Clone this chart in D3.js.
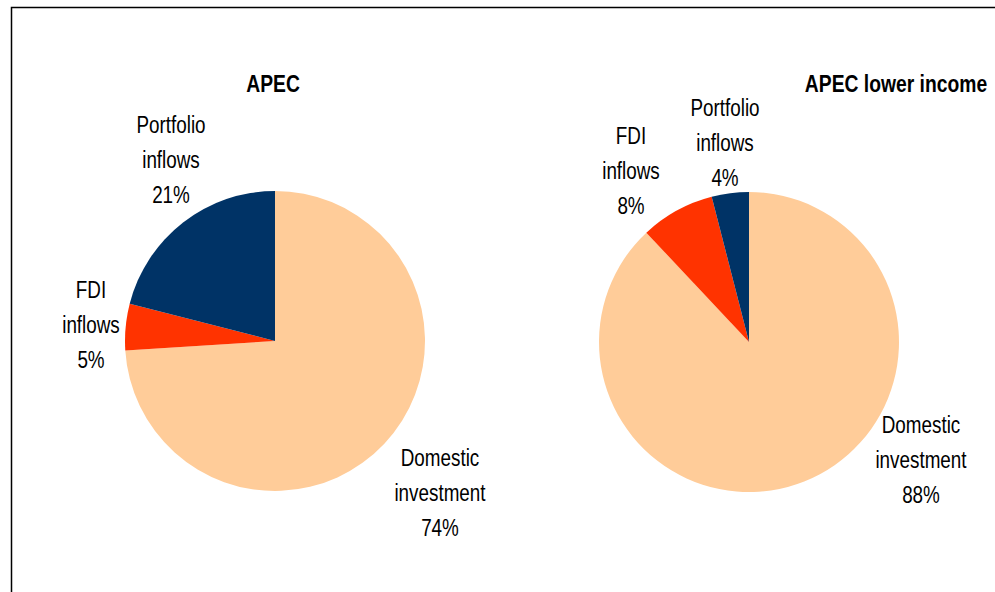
<!DOCTYPE html>
<html lang="en">
<head>
    <meta charset="UTF-8">
    <title>APEC investment sources</title>
    <style>
        body { margin: 0; background: #fff; }
        svg { display: block; }
        .lbl { font-family: "Liberation Sans Narrow", "Arial Narrow", "Liberation Sans", sans-serif; font-size: 23px; fill: #000; }
        .ttl { font-family: "Liberation Sans Narrow", "Arial Narrow", "Liberation Sans", sans-serif; font-size: 23px; font-weight: bold; fill: #000; }
    </style>
</head>
<body>
    <div id="chart"></div>
    <script src="https://cdn.jsdelivr.net/npm/d3@7"></script>
    <script>
        // data
        const categories = ["Domestic investment", "FDI inflows", "Portfolio inflows"];
        const titles = ["APEC", "APEC lower income"];
        const apecValues = [74, 5, 21];
        const lowerIncomeValues = [88, 8, 4];
        const labelLines = [["Domestic", "investment"], ["FDI", "inflows"], ["Portfolio", "inflows"]];

        const colors = ["#FFCC99", "#FF3300", "#003366"];
        const width = 995, height = 592;
        // no narrow font installed, so squeeze text horizontally
        const squeeze = 0.82;

        const svg = d3.select("#chart").append("svg")
            .attr("width", width)
            .attr("height", height);

        // frame
        svg.append("rect")
            .attr("x", 11.5).attr("y", 7.5)
            .attr("width", 1000).attr("height", 600)
            .attr("fill", "none")
            .attr("stroke", "#000")
            .attr("stroke-width", 1.5);

        const radius = 150;
        const pie = d3.pie().sort(null).value(d => d);
        const arc = d3.arc().innerRadius(0).outerRadius(radius);

        // label offsets from pie centre, per slice (domestic, fdi, portfolio)
        const pies = [
            { values: apecValues, title: titles[0], cx: 275, cy: 341, titleX: 273,
              labels: [[165, 152], [-184, -16], [-104, -181]] },
            { values: lowerIncomeValues, title: titles[1], cx: 749, cy: 342, titleX: 896,
              labels: [[172, 118], [-118, -171], [-24, -199]] }
        ];

        pies.forEach(function (p) {
            const g = svg.append("g")
                .attr("transform", "translate(" + p.cx + "," + p.cy + ")");

            g.selectAll("path")
                .data(pie(p.values))
                .enter()
                .append("path")
                .attr("d", arc)
                .attr("fill", (d, i) => colors[i]);

            svg.append("text")
                .attr("class", "ttl")
                .attr("transform", "translate(" + p.titleX + ",84) scale(0.84,1)")
                .attr("text-anchor", "middle")
                .attr("dominant-baseline", "central")
                .text(p.title);

            const lg = g.selectAll(".lab")
                .data(pie(p.values))
                .enter()
                .append("text")
                .attr("class", "lbl")
                .attr("text-anchor", "middle")
                .attr("transform", (d, i) => "translate(" + p.labels[i][0] + "," + p.labels[i][1] + ") scale(" + squeeze + ",1)");

            lg.each(function (d, i) {
                const lines = labelLines[i].concat([d.data + "%"]);
                d3.select(this).selectAll("tspan")
                    .data(lines)
                    .enter()
                    .append("tspan")
                    .attr("x", 0)
                    .attr("y", (t, j) => (j - 1) * 35)
                    .attr("dominant-baseline", "central")
                    .text(t => t);
            });
        });
    </script>
</body>
</html>
